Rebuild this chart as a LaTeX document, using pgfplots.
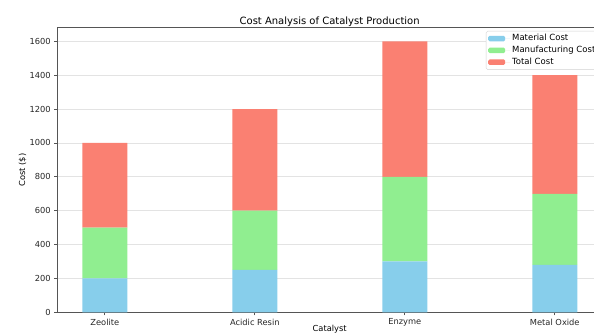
\documentclass[border=0pt]{standalone}
\usepackage{pgfplots}
\pgfplotsset{compat=1.18}
\usepackage{fontspec}
\setmainfont{DejaVu Sans}
\definecolor{skyblue}{HTML}{87CEEB}
\definecolor{lightgreen}{HTML}{90EE90}
\definecolor{salmon}{HTML}{FA8072}
\definecolor{spine}{HTML}{555555}
\begin{document}
\begin{tikzpicture}
\begin{axis}[
  at={(0,0)}, anchor=south west,
  scale only axis, width=544.7pt, height=284.5pt,
  xmin=-0.317, xmax=3.315, ymin=0, ymax=1680,
  ybar stacked, bar width=0.3,
  xtick={0,1,2,3}, xticklabels={Zeolite,Acidic Resin,Enzyme,Metal Oxide},
  ytick={0,200,...,1600},
  xtick pos=lower, ytick pos=left,
  tick align=outside, major tick length=3pt,
  ymajorgrids, grid style={gray!22, line width=0.7pt},
  axis line style={spine, line width=0.7pt},
  tick style={spine, line width=0.7pt},
  /pgf/number format/assume math mode=true,
  /pgf/number format/1000 sep={},
  ticklabel style={font=\fontsize{8.3}{10}\selectfont, text=black!85},
  every axis title/.style={at={(axis description cs:0.5,1)}, anchor=base, inner sep=0pt, yshift=3.7pt, font=\fontsize{10}{12}\selectfont},
  title={Cost Analysis of Catalyst Production},
  xlabel={Catalyst},
  ylabel={Cost (\$)},
  every axis x label/.style={at={(axis description cs:0.5,-0.0668)}, anchor=base, inner sep=0pt, font=\fontsize{8.3}{10}\selectfont},
  every axis y label/.style={at={(axis description cs:-0.0636,0.5)}, anchor=center, rotate=90, font=\fontsize{8.3}{10}\selectfont},
  legend style={at={(axis description cs:0.787,0.9888)}, anchor=north west,
    draw=gray!35, rounded corners=1.5pt, fill=white,
    font=\fontsize{8.5}{10}\selectfont, inner xsep=2pt, inner ysep=1.5pt,
    nodes={inner sep=2pt, text height=6pt, text depth=1.8pt, anchor=west},
    row sep=0pt},
  legend cell align=left,
  legend image code/.code={\fill[#1] (0pt,-2.8pt) rectangle (17pt,2.8pt); \path (0pt,0pt) -- (22pt,0pt);},
]
\addplot[fill=skyblue, draw=none] coordinates {(0,200) (1,250) (2,300) (3,280)};
\addplot[fill=lightgreen, draw=none] coordinates {(0,300) (1,350) (2,500) (3,420)};
\addplot[fill=salmon, draw=none] coordinates {(0,500) (1,600) (2,800) (3,700)};
\legend{Material Cost, Manufacturing Cost, Total Cost}
\end{axis}
\pgfresetboundingbox
\path[use as bounding box] (-57.3pt,-21.7pt) rectangle (536.7pt,312.3pt);
\end{tikzpicture}
\end{document}
